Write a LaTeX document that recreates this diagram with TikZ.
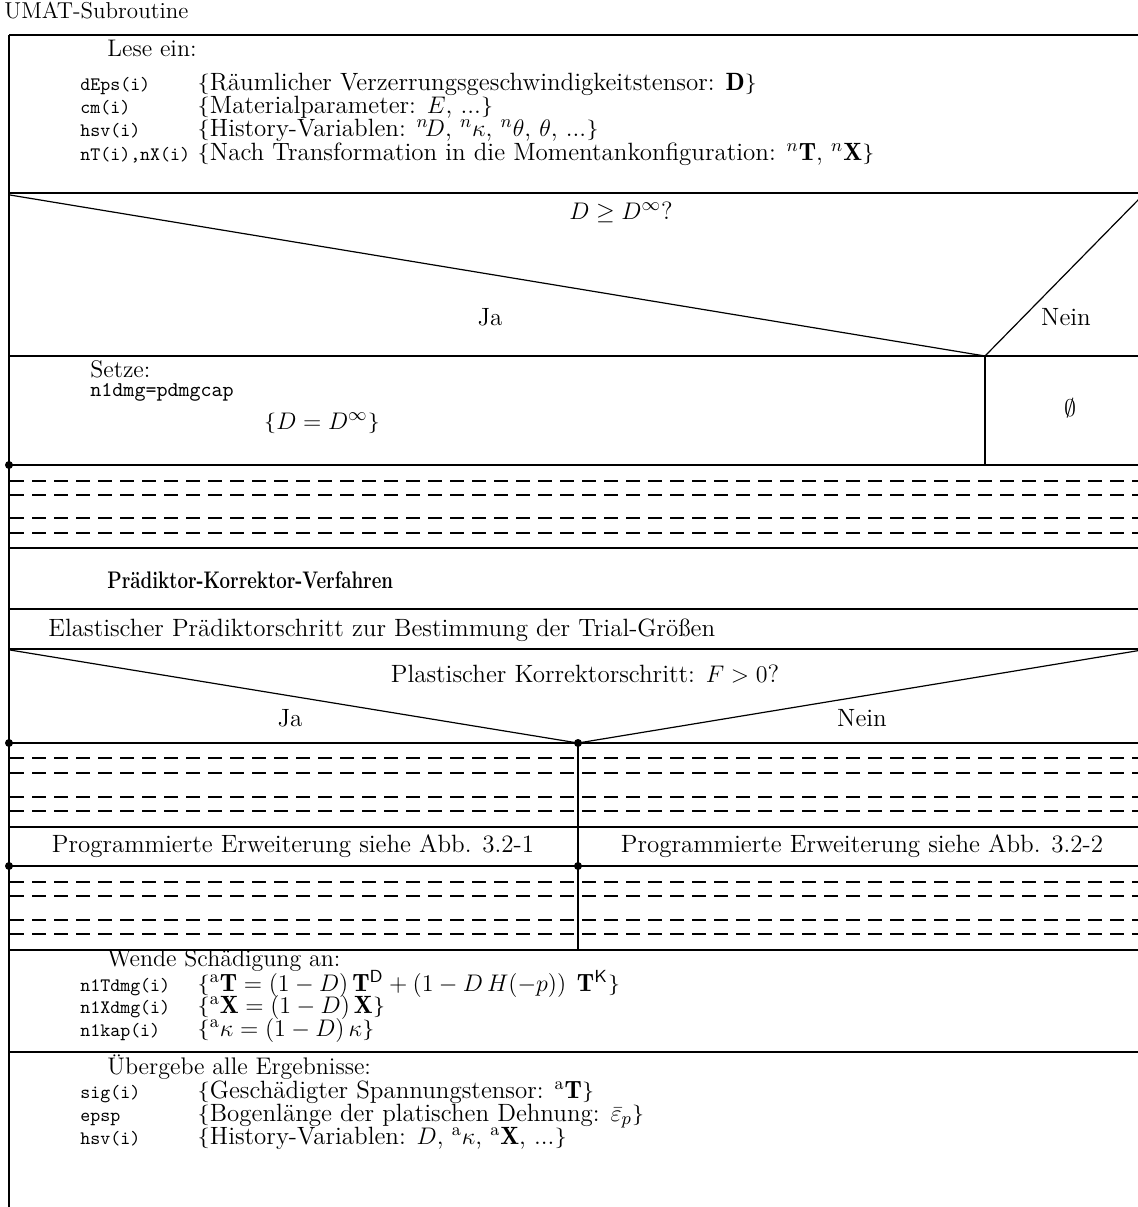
\documentclass[tikz,border=0pt]{standalone}
\usepackage{amsmath,amssymb}
\usepackage{fontspec}
\newcommand{\mylb}{\raisebox{0.4pt}{\scalebox{1}[0.82]{\{}}}
\newcommand{\myrb}{\raisebox{0.4pt}{\scalebox{1}[0.82]{\}}}}
\begin{document}
\begin{tikzpicture}[x=0.5pt,y=-0.5pt,
  txt/.style={font=\fontsize{12.5}{14}\selectfont, inner sep=0pt, anchor=base west},
  ctr/.style={font=\fontsize{12.5}{14}\selectfont, inner sep=0pt, anchor=base},
  head/.style={font=\fontsize{12}{13}\selectfont, inner sep=0pt, anchor=base west},
  code/.style={font=\ttfamily\fontsize{9.5}{11}\selectfont, inner sep=0pt, anchor=base west},
  frame/.style={line width=1.4pt},
  diag/.style={line width=0.6pt},
  dashline/.style={line width=1pt, dash pattern=on 7pt off 4pt},
  dotc/.style={circle, fill, inner sep=0pt, minimum size=4pt}
]
\useasboundingbox (0,0) rectangle (1138,1207);

% ---------- frame lines ----------
\draw[frame] (9,35) -- (1138,35);
\draw[frame] (9,35) -- (9,1207);
\draw[frame] (9,193) -- (1138,193);
\draw[frame] (9,356) -- (1138,356);
\draw[frame] (985,356) -- (985,465);
\draw[frame] (9,465) -- (1138,465);
\draw[frame] (9,548) -- (1138,548);
\draw[frame] (9,609) -- (1138,609);
\draw[frame] (9,649) -- (1138,649);
\draw[frame] (9,743) -- (1138,743);
\draw[frame] (578,743) -- (578,950);
\draw[frame] (9,827) -- (1138,827);
\draw[frame] (9,866) -- (1138,866);
\draw[frame] (9,950) -- (1138,950);
\draw[frame] (9,1052) -- (1138,1052);

% ---------- decisions ----------
\coordinate (v1) at (985,356);
\coordinate (v2) at (578,743);
\draw[diag] (10,195) -- (v1) -- (1142,196);
\draw[diag] (10,650) -- (v2) -- (1142,650);

% ---------- dashed lines ----------
\foreach \yy in {481,495,518,533,758,773,797,811,882,896,920,934}
  \draw[dashline] (10,\yy) -- (1138,\yy);

% ---------- dots ----------
\node[dotc] (p1) at (9,465) {};
\node[dotc] (p2) at (9,743) {};
\node[dotc] (p3) at (578,743) {};
\node[dotc] (p4) at (9,866) {};
\node[dotc] (p5) at (578,866) {};

% ---------- texts ----------
\node[head, font=\fontsize{11.5}{13}\selectfont] (title) at (4,18) {UMAT-Subroutine};

\node[head] (lese) at (107,56) {Lese ein:};
\node[code] (c1) at (80,90) {dEps(i)};
\node[txt]  (d1) at (197,90) {\mylb Räumlicher Verzerrungsgeschwindigkeitstensor: $\mathbf{D}$\myrb};
\node[code] (c2) at (80,113) {cm(i)};
\node[txt]  (d2) at (197,113) {\mylb Materialparameter: $E$, ...\myrb};
\node[code] (c3) at (80,136) {hsv(i)};
\node[txt]  (d3) at (197,136) {\mylb History-Variablen: ${}^{n}\!D$, ${}^{n}\kappa$, ${}^{n}\theta$, $\theta$, ...\myrb};
\node[code] (c4) at (80,160) {nT(i),nX(i)};
\node[txt]  (d4) at (197,160) {\mylb Nach Transformation in die Momentankonfiguration: ${}^{n}\mathbf{T}$, ${}^{n}\mathbf{X}$\myrb};

\node[ctr] (q1) at (621,219) {$D \geq D^{\infty}$?};
\node[ctr] (ja1) at (490,325) {Ja};
\node[ctr] (nein1) at (1066,325) {Nein};

\node[head] (setze) at (90,377) {Setze:};
\node[code, font=\ttfamily\fontsize{10.5}{12}\selectfont] (c5) at (90,396) {n1dmg=pdmgcap};
\node[ctr] (e5) at (322,429) {\mylb$D = D^{\infty}$\myrb};
\node[ctr] (empty) at (1070,416) {$\emptyset$};

\node[head] (pkv) at (107,588) {\scalebox{0.78}[1]{\bfseries Prädiktor-Korrektor-Verfahren}};
\node[txt] (ela) at (48,636) {Elastischer Prädiktorschritt zur Bestimmung der Trial-Größen};

\node[ctr] (q2) at (585,682) {Plastischer Korrektorschritt: $F > 0$?};
\node[ctr] (ja2) at (290,726) {Ja};
\node[ctr] (nein2) at (862,726) {Nein};

\node[ctr] (prog1) at (293,852) {Programmierte Erweiterung siehe Abb. 3.2-1};
\node[ctr] (prog2) at (862,852) {Programmierte Erweiterung siehe Abb. 3.2-2};

\node[head] (wende) at (107,966) {Wende Schädigung an:};
\node[code] (c6) at (80,991) {n1Tdmg(i)};
\node[txt]  (d6) at (197,991) {\mylb${}^{\mathrm{a}}\mathbf{T} = (1-D)\,\mathbf{T}^{\mathsf{D}} + (1-D\,H(-p))\;\,\mathbf{T}^{\mathsf{K}}$\myrb};
\node[code] (c7) at (80,1013) {n1Xdmg(i)};
\node[txt]  (d7) at (197,1013) {\mylb${}^{\mathrm{a}}\mathbf{X} = (1-D)\,\mathbf{X}$\myrb};
\node[code] (c8) at (80,1036) {n1kap(i)};
\node[txt]  (d8) at (197,1036) {\mylb${}^{\mathrm{a}}\kappa = (1-D)\,\kappa$\myrb};

\node[head] (ueber) at (107,1074) {Übergebe alle Ergebnisse:};
\node[code] (c9) at (80,1098) {sig(i)};
\node[txt]  (d9) at (197,1098) {\mylb Geschädigter Spannungstensor: ${}^{\mathrm{a}}\mathbf{T}$\myrb};
\node[code] (c10) at (80,1121) {epsp};
\node[txt]  (d10) at (197,1121) {\mylb Bogenlänge der platischen Dehnung: $\bar{\varepsilon}_{p}$\myrb};
\node[code] (c11) at (80,1144) {hsv(i)};
\node[txt]  (d11) at (197,1144) {\mylb History-Variablen: $D$, ${}^{\mathrm{a}}\kappa$, ${}^{\mathrm{a}}\mathbf{X}$, ...\myrb};
\end{tikzpicture}
\end{document}
